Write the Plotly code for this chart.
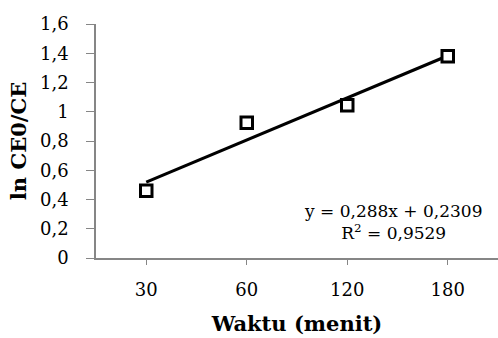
import plotly.graph_objects as go

categories = ["30", "60", "120", "180"]
ln_ratio = [0.46, 0.925, 1.045, 1.38]
slope = 0.288
intercept = 0.2309
r_squared = "0,9529"
y_ticks = [0, 0.2, 0.4, 0.6, 0.8, 1.0, 1.2, 1.4, 1.6]

x_idx = list(range(1, len(categories) + 1))
trend = [slope * x + intercept for x in x_idx]

FONT = "DejaVu Serif"

fig = go.Figure()
fig.add_trace(go.Scatter(x=x_idx, y=trend, mode="lines",
                         line=dict(color="black", width=3), hoverinfo="skip"))
fig.add_trace(go.Scatter(x=x_idx, y=ln_ratio, mode="markers",
                         marker=dict(symbol="square", size=11.5, color="white",
                                     line=dict(color="black", width=3))))

fig.update_layout(
    width=498, height=338,
    margin=dict(l=96, r=0, t=24, b=80, autoexpand=False),
    paper_bgcolor="white", plot_bgcolor="white",
    showlegend=False,
    separators=", ",
    font=dict(family=FONT, color="black", size=18),
    xaxis=dict(range=[0.5, 4.5], tickvals=x_idx, ticktext=categories,
               automargin=False,
               showgrid=False, zeroline=False, showline=True,
               linecolor="#868686", linewidth=1.5,
               ticks="outside", ticklen=5, tickcolor="#868686",
               ticklabelstandoff=10,
               tickfont=dict(size=18, family=FONT),
               title=dict(text="<b>Waktu (menit)</b>", font=dict(size=21, family=FONT), standoff=17)),
    yaxis=dict(range=[0, 1.6], tickvals=y_ticks,
               automargin=False,
               showgrid=False, zeroline=False, showline=True,
               linecolor="#868686", linewidth=1.5,
               ticks="outside", ticklen=8, tickcolor="#868686",
               ticklabelstandoff=14,
               tickfont=dict(size=18, family=FONT),
               title=dict(text="<b>ln CE0/CE</b>", font=dict(size=21, family=FONT), standoff=8)),
    annotations=[dict(
        xref="paper", yref="paper", x=0.739, y=0.154,
        xanchor="center", yanchor="middle",
        text=f"y = 0,288x + 0,2309<br>R<sup>2</sup> = {r_squared}",
        showarrow=False, align="center",
        font=dict(size=17, family=FONT, color="black"))],
)

fig.write_html("out.html", config={"displayModeBar": False},
               post_script="document.body.style.margin='0';document.body.style.overflow='hidden';")
